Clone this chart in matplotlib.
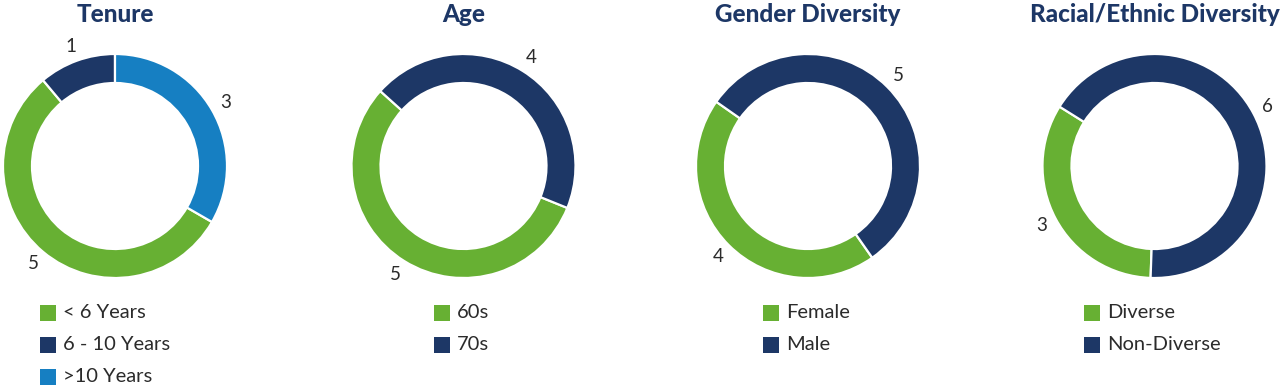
import matplotlib
matplotlib.use("Agg")
import matplotlib.pyplot as plt
from matplotlib.patches import Rectangle

# ---- data ----
titles = ["Tenure", "Age", "Gender Diversity", "Racial/Ethnic Diversity"]
tenure_labels = ["< 6 Years", "6 - 10 Years", ">10 Years"]
tenure_values = [5, 1, 3]
age_labels = ["60s", "70s"]
age_values = [5, 4]
gender_labels = ["Female", "Male"]
gender_values = [4, 5]
racial_labels = ["Diverse", "Non-Diverse"]
racial_values = [3, 6]

GREEN = "#67B033"
NAVY = "#1D3766"
BLUE = "#167FC2"
TEXT = "#2b2b2b"

charts = [
    dict(title=titles[0], labels=tenure_labels, values=tenure_values,
         colors=[GREEN, NAVY, BLUE], cx=115, start=-30, legx=40),
    dict(title=titles[1], labels=age_labels, values=age_values,
         colors=[GREEN, NAVY], cx=463.5, start=-22, legx=434),
    dict(title=titles[2], labels=gender_labels, values=gender_values,
         colors=[GREEN, NAVY], cx=808, start=-55, legx=763),
    dict(title=titles[3], labels=racial_labels, values=racial_values,
         colors=[GREEN, NAVY], cx=1154.5, start=-92, legx=1084),
]

W, H = 1282, 390
fig = plt.figure(figsize=(W / 100, H / 100), dpi=100)
ax = fig.add_axes([0, 0, 1, 1])

R = 112
RING = 29
CY = H - 166

for c in charts:
    wedges, texts = ax.pie(
        c["values"], colors=c["colors"], startangle=c["start"], counterclock=False,
        radius=R, center=(c["cx"], CY), labels=[str(v) for v in c["values"]],
        labeldistance=1.14,
        wedgeprops=dict(width=RING, edgecolor="white", linewidth=1.6),
        textprops=dict(fontsize=13.5, color=TEXT, family="Lato"),
    )
    for t in texts:
        t.set_ha("center")
        t.set_va("center")
    ax.text(c["cx"], H - 14, c["title"], ha="center", va="center",
            fontsize=17.5, fontweight="black", color=NAVY, family="Lato")
    for i, lab in enumerate(c["labels"]):
        yc = H - (313 + 32 * i)
        ax.add_patch(Rectangle((c["legx"], yc - 8), 16, 16, facecolor=c["colors"][i],
                               edgecolor="none"))
        ax.text(c["legx"] + 23, yc, lab, ha="left", va="center", fontsize=14.5,
                color=TEXT, family="Lato")

ax.set_xlim(0, W)
ax.set_ylim(0, H)
ax.set_aspect("equal")
ax.axis("off")
fig.savefig("out.png", dpi=100)
